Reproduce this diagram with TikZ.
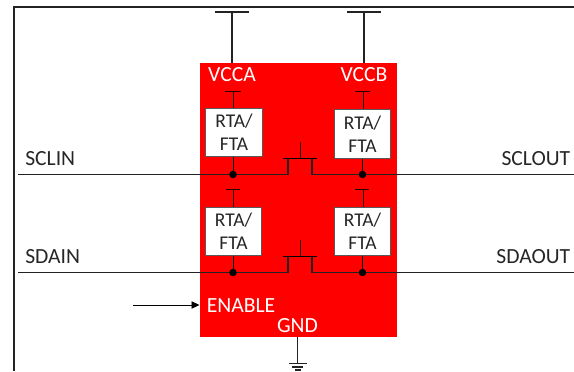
\documentclass[tikz,border=0pt]{standalone}
\usepackage{fontspec}
\setmainfont{Carlito}
\usetikzlibrary{arrows.meta}
\definecolor{wire}{HTML}{222222}
\tikzset{
  wireline/.style={draw=wire,line width=0.85pt},
  thinline/.style={draw=black,line width=0.7pt},
  stubline/.style={draw=black!85!red,line width=0.6pt},
  pinlabel/.style={font=\fontsize{16.2}{18}\selectfont,text=black!85,inner sep=0pt},
  chiplabel/.style={font=\fontsize{16.2}{18}\selectfont,text=white,inner sep=0pt},
  rtabox/.style={draw=black!65,line width=0.7pt,fill=white,minimum width=42.5pt,minimum height=36.5pt,inner sep=0pt,align=center,font=\fontsize{14.6}{17}\selectfont,text=black!85},
  jdot/.style={circle,fill=black,inner sep=0pt,minimum size=5.6pt},
  chip/.style={fill=red,draw=none}
}
\begin{document}
\begin{tikzpicture}[x=0.75pt,y=-0.75pt]
\useasboundingbox (0,0) rectangle (574,371);
% outer frame
\coordinate (fa) at (14,371);
\coordinate (fb) at (14,7);
\coordinate (fc) at (574,7);
\draw[wire,line width=1pt] (fa) -- (fb) -- (fc);
% chip
\node[chip,minimum width=147.75pt,minimum height=205.5pt,inner sep=0pt] (ic) at (298,200) {};
% supply rails
\coordinate (va) at (232,12);\coordinate (val) at (215,12);\coordinate (var) at (249,12);\coordinate (vab) at (232,63);
\coordinate (vb) at (364,12);\coordinate (vbl) at (347,12);\coordinate (vbr) at (381,12);\coordinate (vbb) at (364,63);
\draw[wireline] (va) -- (vab);
\draw[wireline] (val) -- (var);
\draw[wireline] (vb) -- (vbb);
\draw[wireline] (vbl) -- (vbr);
% signal lines
\coordinate (s1l) at (18,174.5);\coordinate (s1a) at (288,174.5);\coordinate (s1b) at (288,158.5);
\coordinate (s1c) at (312,158.5);\coordinate (s1d) at (312,174.5);\coordinate (s1r) at (574,174.5);
\coordinate (b1l) at (283,158.5);\coordinate (b1r) at (317,158.5);\coordinate (g1) at (300,158.5);\coordinate (g1t) at (300,142);
\coordinate (s2l) at (18,272.5);\coordinate (s2a) at (288,272.5);\coordinate (s2b) at (288,256);
\coordinate (s2c) at (312,256);\coordinate (s2d) at (312,272.5);\coordinate (s2r) at (574,272.5);
\coordinate (b2l) at (283,256);\coordinate (b2r) at (317,256);\coordinate (g2) at (300,256);\coordinate (g2t) at (300,240);
\draw[wireline] (s1l) -- (s1a) -- (s1b);
\draw[wireline] (s1c) -- (s1d) -- (s1r);
\draw[thinline] (b1l) -- (b1r);
\draw[stubline] (g1) -- (g1t);
\draw[wireline] (s2l) -- (s2a) -- (s2b);
\draw[wireline] (s2c) -- (s2d) -- (s2r);
\draw[thinline] (b2l) -- (b2r);
\draw[stubline] (g2) -- (g2t);
% dots
\node[jdot] (d1) at (233,174.5) {};
\node[jdot] (d2) at (362.5,174.5) {};
\node[jdot] (d3) at (233,272.5) {};
\node[jdot] (d4) at (362.5,272.5) {};
% RTA boxes
\node[rtabox] (r1) at (234,132.5) {RTA/\\FTA};
\node[rtabox] (r2) at (362.5,134) {RTA/\\FTA};
\node[rtabox] (r3) at (233.5,231.5) {RTA/\\FTA};
\node[rtabox] (r4) at (362.5,231.5) {RTA/\\FTA};
% pull-up stubs
\coordinate (t1) at (233.5,91);\coordinate (t1l) at (225,91);\coordinate (t1r) at (241,91);
\coordinate (t2) at (363,91);\coordinate (t2l) at (355,91);\coordinate (t2r) at (370,91);
\coordinate (t3) at (233.5,189);\coordinate (t3l) at (226,189);\coordinate (t3r) at (240,189);
\coordinate (t4) at (363,189);\coordinate (t4l) at (355,189);\coordinate (t4r) at (369,189);
\draw[stubline] (r1.north -| t1) -- (t1);
\draw[stubline] (t1l) -- (t1r);
\draw[stubline] (r2.north -| t2) -- (t2);
\draw[stubline] (t2l) -- (t2r);
\draw[stubline] (r3.north -| t3) -- (t3);
\draw[stubline] (t3l) -- (t3r);
\draw[stubline] (r4.north -| t4) -- (t4);
\draw[stubline] (t4l) -- (t4r);
\draw[thinline] (r1.south -| d1) -- (d1);
\draw[thinline] (r2.south -| d2) -- (d2);
\draw[thinline] (r3.south -| d3) -- (d3);
\draw[thinline] (r4.south -| d4) -- (d4);
% enable
\coordinate (en) at (133,305);\coordinate (enb) at (199.5,305);
\draw[thinline,-{Triangle[length=6pt,width=5.5pt]}] (en) -- (enb);
% ground
\coordinate (gt) at (297.5,337);\coordinate (gb) at (297.5,363.5);
\coordinate (g1l) at (289,363.5);\coordinate (g1r) at (307,363.5);
\coordinate (g2l) at (292,367);\coordinate (g2r) at (303,367);
\coordinate (g3l) at (295,370);\coordinate (g3r) at (300.5,370);
\draw[wireline] (gt) -- (gb);
\draw[wireline] (g1l) -- (g1r);
\draw[wireline] (g2l) -- (g2r);
\draw[wireline] (g3l) -- (g3r);
% labels
\node[chiplabel] (lva) at (232,75) {VCCA};
\node[chiplabel] (lvb) at (364,75) {VCCB};
\node[chiplabel,anchor=west] (len) at (206.5,305.5) {ENABLE};
\node[chiplabel] (lg) at (297.5,325.5) {GND};
\node[pinlabel,anchor=west] (l1) at (25,158.5) {SCLIN};
\node[pinlabel,anchor=west] (l2) at (25,257) {SDAIN};
\node[pinlabel,anchor=east] (l3) at (570.5,158.5) {SCLOUT};
\node[pinlabel,anchor=east] (l4) at (570.5,257) {SDAOUT};
\end{tikzpicture}
\end{document}
